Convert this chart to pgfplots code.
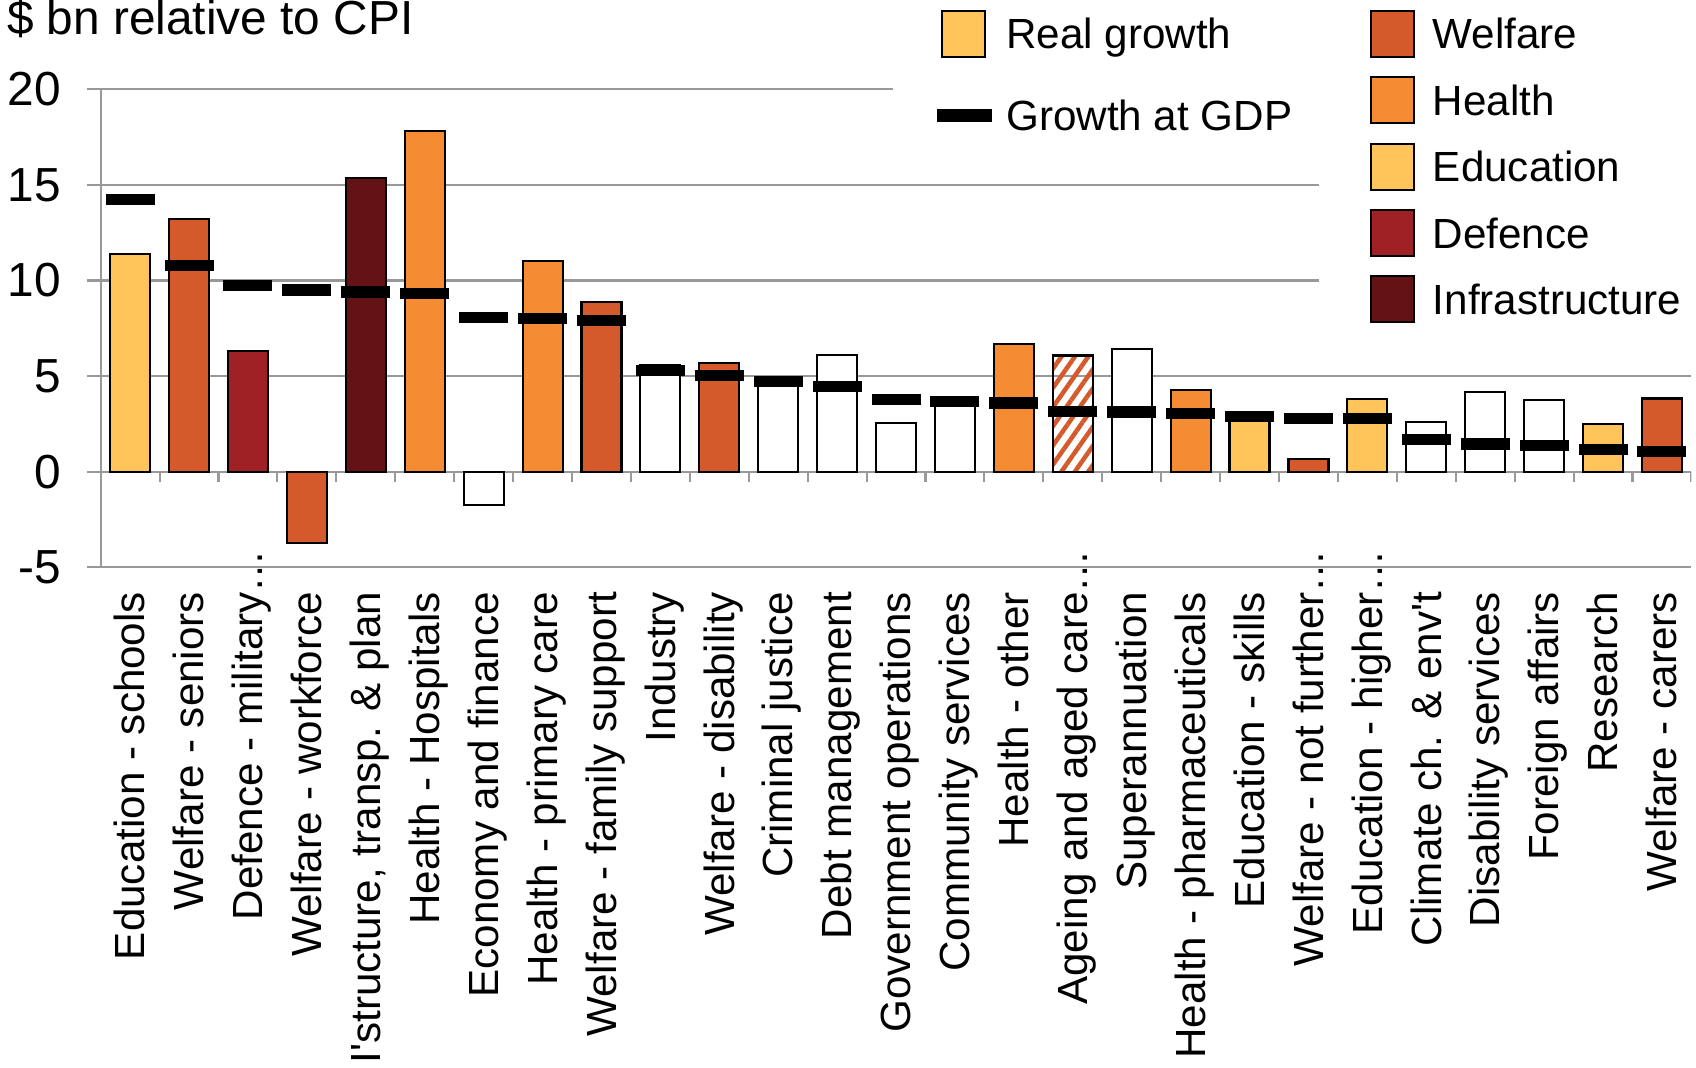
\documentclass[border=0pt]{standalone}
\usepackage{fontspec}
\setmainfont{Liberation Sans}
\usepackage{pgfplots}
\pgfplotsset{compat=1.18}
\usetikzlibrary{patterns.meta}
\definecolor{welfare}{HTML}{D55A2B}
\definecolor{health}{HTML}{F58C33}
\definecolor{education}{HTML}{FFC45A}
\definecolor{defence}{HTML}{9F2126}
\definecolor{infra}{HTML}{631316}
\definecolor{gridc}{HTML}{999999}

\pgfplotsset{
  legbox/.style={legend image code/.code={\draw[##1] (0mm,-2.3mm) rectangle (4.3mm,2.3mm);}},
  legdash/.style={legend image code/.code={\draw[black, line width=1.3mm] (-0.5mm,0) -- (5.0mm,0);}},
  catbar/.style={ybar, bar width=4.0mm, bar shift=0pt, draw=black, line width=0.6pt, forget plot},
}

\begin{document}
\begin{tikzpicture}
\begin{axis}[
    at={(10.07mm,-56.73mm)}, anchor=south west,
    scale only axis, width=159.07mm, height=47.8mm,
    xmin=-0.5, xmax=26.5, ymin=-5, ymax=20,
    axis lines*=left, axis line style={gridc, line width=0.6pt},
    ymajorgrids, grid style={gridc, line width=0.6pt},
    tick align=outside, major tick length=1.4mm,
    ytick={-5,0,5,10,15,20}, yticklabels={-5,0,5,10,15,20},
    ytick style={gridc, line width=0.6pt},
    yticklabel style={anchor=east, inner sep=0pt, xshift=-2.5mm, font=\fontsize{13.6}{16}\selectfont},
    xtick={0,...,26}, xtick style={draw=none},
    xticklabel style={rotate=90, anchor=east, inner sep=0pt, text height=10.9pt, text depth=2.5pt,
                      font=\fontsize{12}{14}\selectfont},
    xticklabel shift=1.0mm,
    xticklabels={Education - schools, Welfare - seniors, Defence - military\rlap{…},
      Welfare - workforce, {I\textquotesingle structure, transp. \& plan}, Health - Hospitals,
      Economy and finance, Health - primary care, Welfare - family support, Industry,
      Welfare - disability, Criminal justice, Debt management, Government operations,
      Community services, Health - other, Ageing and aged care\rlap{…}, Superannuation,
      Health - pharmaceuticals, Education - skills, Welfare - not further\rlap{…},
      Education - higher\rlap{…}, {Climate ch. \& env\textquotesingle t}, Disability services,
      Foreign affairs, Research, Welfare - carers},
    legend cell align=left,
    legend style={at={(axis description cs:0.4975,1.1868)}, anchor=north west,
      fill=white, draw=none, inner xsep=3.75mm, inner ysep=0.9mm, row sep=4.3mm,
      nodes={inner sep=0pt, text height=3.0mm, text depth=0pt},
      /tikz/every odd column/.append style={column sep=0.8mm},
      font=\fontsize{12}{14.4}\selectfont},
  ]
  % category bars
  \addplot[catbar, fill=education] coordinates {(0,11.4) (19,2.8) (21,3.8) (25,2.5)};
  \addplot[catbar, fill=welfare] coordinates {(1,13.2) (3,-3.75) (8,8.9) (10,5.7) (20,0.68) (26,3.83)};
  \addplot[catbar, fill=defence] coordinates {(2,6.3)};
  \addplot[catbar, fill=infra] coordinates {(4,15.35)};
  \addplot[catbar, fill=health] coordinates {(5,17.8) (7,11.0) (15,6.67) (18,4.27)};
  \addplot[catbar, fill=white] coordinates {(6,-1.76) (9,5.6) (11,4.6) (12,6.1) (13,2.54) (14,3.6)
    (17,6.43) (22,2.58) (23,4.16) (24,3.76)};
  \addplot[catbar, fill=white, pattern={Lines[angle=55,distance=1.1mm,line width=0.45mm]},
    pattern color=welfare] coordinates {(16,6.08)};
  % growth at GDP
  \addplot[forget plot, only marks, mark=-, mark size=2.45mm, mark options={black, line width=1.12mm}]
    coordinates {(0,14.25) (1,10.8) (2,9.73) (3,9.5) (4,9.4) (5,9.34) (6,8.08) (7,8.03) (8,7.93)
      (9,5.3) (10,5.05) (11,4.7) (12,4.44) (13,3.76) (14,3.69) (15,3.59) (16,3.17) (17,3.12)
      (18,3.05) (19,2.87) (20,2.8) (21,2.77) (22,1.69) (23,1.45) (24,1.38) (25,1.18) (26,1.06)};
  % tick marks on the zero line
  \pgfplotsinvokeforeach{0.5,1.5,2.5,3.5,4.5,5.5,6.5,7.5,8.5,9.5,10.5,11.5,12.5,13.5,14.5,
      15.5,16.5,17.5,18.5,19.5,20.5,21.5,22.5,23.5,24.5,25.5,26.5}{
    \draw[gridc, line width=0.6pt] (axis cs:#1,0) -- ([yshift=-1mm]axis cs:#1,0);
  }
  \addlegendimage{legbox, fill=education, draw=black, line width=0.6pt}
  \addlegendentry{Real growth}
  \addlegendimage{legdash}
  \addlegendentry{Growth at GDP}
\end{axis}

\begin{axis}[
    at={(10.07mm,-56.73mm)}, anchor=south west,
    scale only axis, width=159.07mm, height=47.8mm,
    xmin=-0.5, xmax=26.5, ymin=-5, ymax=20, hide axis,
    legend cell align=left,
    legend style={at={(axis description cs:0.7653,1.1868)}, anchor=north west,
      fill=white, draw=none, inner xsep=5.1mm, inner ysep=0.9mm, row sep=1.83mm,
      nodes={inner sep=0pt, text height=3.0mm, text depth=0pt},
      /tikz/every odd column/.append style={column sep=1.8mm},
      font=\fontsize{12}{14.4}\selectfont},
  ]
  \addlegendimage{legbox, fill=welfare, draw=black, line width=0.6pt}
  \addlegendentry{Welfare}
  \addlegendimage{legbox, fill=health, draw=black, line width=0.6pt}
  \addlegendentry{Health}
  \addlegendimage{legbox, fill=education, draw=black, line width=0.6pt}
  \addlegendentry{Education}
  \addlegendimage{legbox, fill=defence, draw=black, line width=0.6pt}
  \addlegendentry{Defence}
  \addlegendimage{legbox, fill=infra, draw=black, line width=0.6pt}
  \addlegendentry{Infrastructure}
\end{axis}

\node[anchor=base west, inner sep=0pt, font=\fontsize{13.6}{16}\selectfont]
  at (0.63mm,-3.45mm) {\$ bn relative to CPI};

\pgfresetboundingbox
\path[use as bounding box] (0,0) rectangle (169.6mm,-106.7mm);
\end{tikzpicture}
\end{document}
